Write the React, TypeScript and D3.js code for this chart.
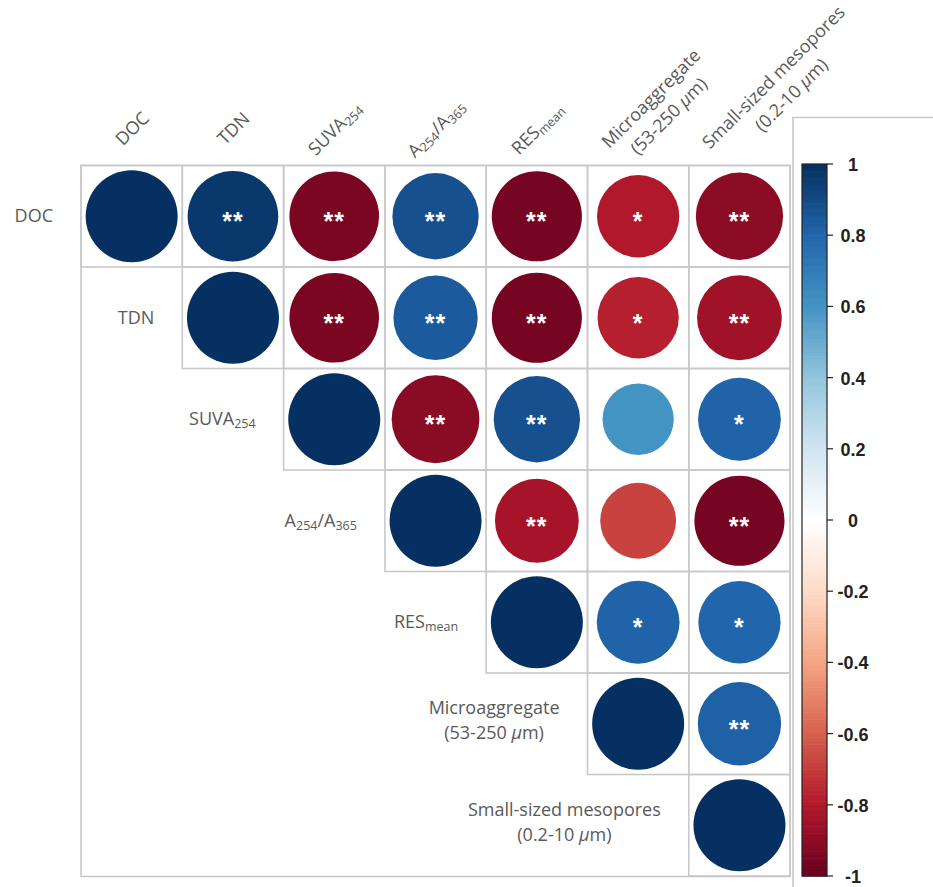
import React, { useEffect, useRef } from "react";
import * as d3 from "d3";

// ---------- data ----------
type Seg = { t: string; sub?: boolean; it?: boolean };
const variableLabels: Seg[][][] = [
  [[{ t: "DOC" }]],
  [[{ t: "TDN" }]],
  [[{ t: "SUVA" }, { t: "254", sub: true }]],
  [[{ t: "A" }, { t: "254", sub: true }, { t: "/A" }, { t: "365", sub: true }]],
  [[{ t: "RES" }, { t: "mean", sub: true }]],
  [[{ t: "Microaggregate" }], [{ t: "(53-250 " }, { t: "μ", it: true }, { t: "m)" }]],
  [[{ t: "Small-sized mesopores" }], [{ t: "(0.2-10 " }, { t: "μ", it: true }, { t: "m)" }]],
];

// upper triangle rows (diagonal first)
const corrRows: number[][] = [
  [1, 0.97, -0.95, 0.88, -0.96, -0.8, -0.9],
  [1, -0.95, 0.84, -0.96, -0.78, -0.85],
  [1, -0.91, 0.88, 0.6, 0.81],
  [1, -0.83, -0.68, -0.96],
  [1, 0.81, 0.8],
  [1, 0.82],
  [1],
];
const sigRows: string[][] = [
  ["", "**", "**", "**", "**", "*", "**"],
  ["", "**", "**", "**", "*", "**"],
  ["", "**", "**", "", "*"],
  ["", "**", "", "**"],
  ["", "*", "*"],
  ["", "**"],
  [""],
];
const colorStops = ["#67001F", "#B2182B", "#D6604D", "#F4A582", "#FDDBC7", "#FFFFFF", "#D1E5F0", "#92C5DE", "#4393C3", "#2166AC", "#053061"];
const legendTicks = [1, 0.8, 0.6, 0.4, 0.2, 0, -0.2, -0.4, -0.6, -0.8, -1];

// ---------- layout ----------
const W = 933, H = 887;
const gridLeft = 81, gridTop = 165.5, cellW = 101.3, cellH = 101.5;
const maxR = 46;
const headerY = 128;
const headerShift = [0, 0, 0, 0, 0, 30, 60];
const labelFont = "'Open Sans', 'Noto Sans', sans-serif";
const labelSize = 18;
const labelColor = "#595959";
const gridColor = "#c9c9c9";

export default function App() {
  const ref = useRef<SVGSVGElement>(null);

  useEffect(() => {
    const svg = d3.select(ref.current);
    svg.selectAll("*").remove();
    const n = variableLabels.length;

    const x = d3.scaleBand<number>().domain(d3.range(n)).range([gridLeft, gridLeft + n * cellW]);
    const y = d3.scaleBand<number>().domain(d3.range(n)).range([gridTop, gridTop + n * cellH]);
    const color = d3
      .scaleLinear<string>()
      .domain(d3.range(colorStops.length).map((i) => -1 + (2 * i) / (colorStops.length - 1)))
      .range(colorStops)
      .interpolate(d3.interpolateRgb);
    const rScale = d3.scaleSqrt().domain([0, 1]).range([0, maxR]);

    svg.append("rect").attr("width", W).attr("height", H).attr("fill", "#fff");

    const cells: { i: number; j: number; v: number; s: string }[] = [];
    corrRows.forEach((row, i) =>
      row.forEach((v, k) => cells.push({ i, j: i + k, v, s: sigRows[i][k] }))
    );

    // outer frame
    svg
      .append("rect")
      .attr("x", gridLeft)
      .attr("y", gridTop)
      .attr("width", n * cellW)
      .attr("height", n * cellH + 0.5)
      .attr("fill", "none")
      .attr("stroke", gridColor)
      .attr("stroke-width", 1.6);

    // cell grid
    svg
      .append("g")
      .selectAll("rect")
      .data(cells)
      .join("rect")
      .attr("x", (d) => x(d.j)!)
      .attr("y", (d) => y(d.i)!)
      .attr("width", cellW)
      .attr("height", cellH)
      .attr("fill", "none")
      .attr("stroke", gridColor)
      .attr("stroke-width", 1.6);

    // circles
    svg
      .append("g")
      .selectAll("circle")
      .data(cells)
      .join("circle")
      .attr("cx", (d) => x(d.j)! + cellW / 2)
      .attr("cy", (d) => y(d.i)! + cellH / 2)
      .attr("r", (d) => rScale(Math.abs(d.v)))
      .attr("fill", (d) => color(d.v));

    // significance stars
    svg
      .append("g")
      .selectAll("text")
      .data(cells.filter((d) => d.s))
      .join("text")
      .attr("x", (d) => x(d.j)! + cellW / 2)
      .attr("y", (d) => y(d.i)! + cellH / 2 + 14)
      .attr("text-anchor", "middle")
      .attr("fill", "#fff")
      .attr("font-family", "'Liberation Sans', Arial, sans-serif")
      .attr("font-weight", "bold")
      .attr("font-size", 25)
      .attr("letter-spacing", 1)
      .text((d) => d.s);

    const addSegs = (t: any, segs: Seg[]) => {
      segs.forEach((s) => {
        const sp = t.append("tspan").text(s.t);
        if (s.sub) sp.attr("font-size", 12.5).attr("baseline-shift", "-25%");
        if (s.it) sp.attr("font-style", "italic");
      });
    };

    // row labels (right-aligned block, lines centered)
    variableLabels.forEach((lines, i) => {
      const g = svg.append("g");
      const rightEdge = x(i)! - 28;
      const cy = y(i)! + cellH / 2;
      const lineH = 25;
      const texts = lines.map((segs, li) => {
        const t = g
          .append("text")
          .attr("font-family", labelFont)
          .attr("font-size", labelSize)
          .attr("fill", labelColor)
          .attr("text-anchor", "middle")
          .attr("y", cy + 6 + (li - (lines.length - 1) / 2) * lineH - (lines.length > 1 ? 3 : 0));
        addSegs(t, segs);
        return t;
      });
      const widths = texts.map((t) => (t.node() as SVGTextElement).getComputedTextLength());
      const maxW = d3.max(widths) || 0;
      texts.forEach((t) => t.attr("x", rightEdge - maxW / 2));
    });

    // column headers (rotated -45°)
    variableLabels.forEach((lines, j) => {
      const cx = x(j)! + cellW / 2;
      const g = svg
        .append("g")
        .attr("transform", `translate(${cx},${headerY}) rotate(-45) translate(${headerShift[j]},0)`);
      const lineH = 25;
      lines.forEach((segs, li) => {
        const t = g
          .append("text")
          .attr("font-family", labelFont)
          .attr("font-size", labelSize)
          .attr("fill", labelColor)
          .attr("text-anchor", "middle")
          .attr("y", 7 + (li - (lines.length - 1) / 2) * lineH);
        addSegs(t, segs);
      });
    });

    // legend frame
    svg
      .append("path")
      .attr("d", `M793,887 V117.5 H933`)
      .attr("fill", "none")
      .attr("stroke", gridColor)
      .attr("stroke-width", 1.6);

    // colour bar
    const barX = 802, barW = 25;
    const ly = d3.scaleLinear().domain([1, -1]).range([164, 876]);
    const nSeg = 200;
    const segVals = d3.range(nSeg).map((k) => -1 + (2 * (k + 0.5)) / nSeg);
    const segH = (ly(-1) - ly(1)) / nSeg;
    svg
      .append("g")
      .selectAll("rect")
      .data(segVals)
      .join("rect")
      .attr("x", barX)
      .attr("y", (v) => ly(v) - segH / 2)
      .attr("width", barW)
      .attr("height", segH + 0.6)
      .attr("fill", (v) => color(v));
    svg
      .append("rect")
      .attr("x", barX)
      .attr("y", ly(1))
      .attr("width", barW)
      .attr("height", ly(-1) - ly(1))
      .attr("fill", "none")
      .attr("stroke", "#222")
      .attr("stroke-width", 1.2);
    const tg = svg.append("g");
    tg.selectAll("line")
      .data(legendTicks)
      .join("line")
      .attr("x1", barX + barW)
      .attr("x2", barX + barW + 6)
      .attr("y1", (v) => ly(v))
      .attr("y2", (v) => ly(v))
      .attr("stroke", "#222")
      .attr("stroke-width", 1.2);
    tg.selectAll("text")
      .data(legendTicks)
      .join("text")
      .attr("x", 853)
      .attr("y", (v) => ly(v) + 7)
      .attr("text-anchor", "middle")
      .attr("font-family", "'Liberation Sans', Arial, sans-serif")
      .attr("font-weight", "bold")
      .attr("font-size", 18)
      .attr("fill", "#222")
      .text((v) => String(v));
  }, []);

  return (
    <svg
      ref={ref}
      width={W}
      height={H}
      style={{ position: "absolute", left: 0, top: 0, display: "block" }}
    />
  );
}
